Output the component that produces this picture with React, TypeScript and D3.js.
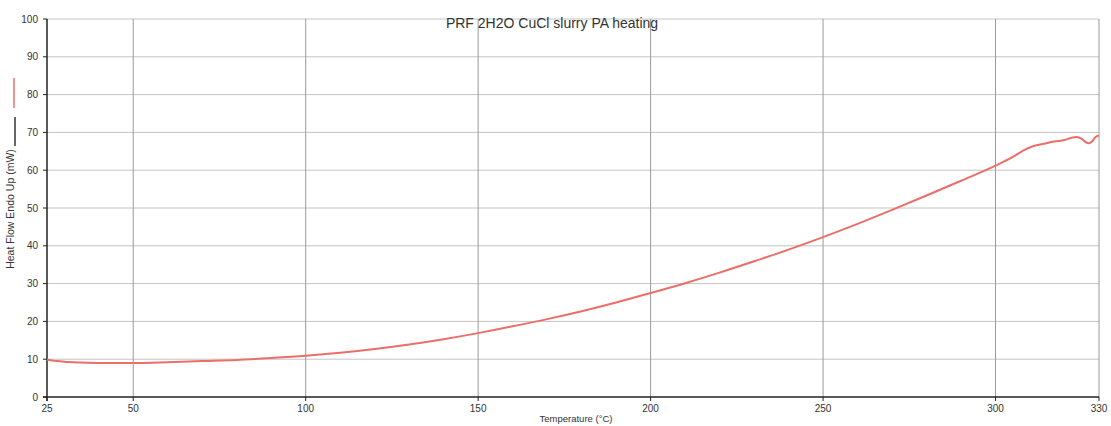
import React from "react";
import * as d3 from "d3";

// Temperature (°C) and heat flow (mW) samples of the heating run
const temperature = [25, 26, 28, 30, 35, 40, 50, 60, 70, 80, 90, 100, 110, 120, 130, 140, 150, 160, 170, 180, 190, 200, 210, 220, 230, 240, 250, 260, 270, 280, 290, 300, 305, 308, 311, 314, 317, 320, 322, 323.5, 325, 326, 327, 328, 329, 330];
const heatFlow = [9.9, 9.7, 9.5, 9.3, 9.1, 9.0, 9.0, 9.2, 9.5, 9.8, 10.3, 10.9, 11.7, 12.7, 13.9, 15.3, 16.9, 18.7, 20.6, 22.7, 25.0, 27.5, 30.1, 32.9, 35.9, 39.0, 42.3, 45.8, 49.5, 53.3, 57.2, 61.2, 63.5, 65.2, 66.4, 67.0, 67.6, 68.0, 68.6, 68.8, 68.3, 67.5, 67.1, 67.6, 68.8, 69.2];

const xTicks = [25, 50, 100, 150, 200, 250, 300, 330];
const yTicks = [0, 10, 20, 30, 40, 50, 60, 70, 80, 90, 100];

const title = "PRF 2H2O CuCl slurry PA heating";
const xLabel = "Temperature (°C)";
const yLabel = "Heat Flow Endo Up (mW)";

const W = 1111;
const H = 426;
const m = { left: 47, right: 1099, top: 19, bottom: 397 };

export default function App() {
  const x = d3.scaleLinear().domain([25, 330]).range([m.left, m.right]);
  const y = d3.scaleLinear().domain([0, 100]).range([m.bottom, m.top]);
  const pts: [number, number][] = temperature.map((t, i) => [t, heatFlow[i]]);
  const line = d3
    .line<[number, number]>()
    .x((d) => x(d[0]))
    .y((d) => y(d[1]))
    .curve(d3.curveMonotoneX);
  const font = "'Liberation Sans', Arial, sans-serif";

  return (
    <svg
      width={W}
      height={H}
      style={{ position: "absolute", left: 0, top: 0, background: "#fff" }}
      fontFamily={font}
    >
      {/* horizontal grid */}
      {yTicks.filter((v) => v > 0).map((v) => (
        <line key={"h" + v} x1={m.left} x2={m.right} y1={y(v)} y2={y(v)} stroke="#c4c4c4" strokeWidth={1} />
      ))}
      {/* vertical grid */}
      {xTicks.filter((v) => v > 25).map((v) => (
        <line key={"v" + v} x1={x(v)} x2={x(v)} y1={m.top} y2={m.bottom} stroke="#9a9a9a" strokeWidth={1} />
      ))}
      {/* axes */}
      <line x1={m.left} x2={m.left} y1={m.top} y2={m.bottom + 4} stroke="#222" strokeWidth={1.5} />
      <line x1={m.left - 4} x2={m.right} y1={m.bottom} y2={m.bottom} stroke="#222" strokeWidth={1.5} />
      {yTicks.map((v) => (
        <g key={"yt" + v}>
          <line x1={m.left - 4} x2={m.left} y1={y(v)} y2={y(v)} stroke="#222" />
          <text x={m.left - 9} y={y(v) + 3.5} fontSize={10} textAnchor="end" fill="#333">{v}</text>
        </g>
      ))}
      {xTicks.map((v) => (
        <g key={"xt" + v}>
          <line x1={x(v)} x2={x(v)} y1={m.bottom} y2={m.bottom + 4} stroke="#222" />
          <text x={x(v)} y={m.bottom + 15} fontSize={10} textAnchor="middle" fill="#333">{v}</text>
        </g>
      ))}
      <text x={576} y={422} fontSize={9.5} textAnchor="middle" fill="#333">{xLabel}</text>
      <text
        transform={`translate(14,${209}) rotate(-90)`}
        fontSize={10.5}
        textAnchor="middle"
        fill="#333"
      >
        {yLabel}
      </text>
      {/* legend swatches */}
      <line x1={14} x2={14} y1={78} y2={108} stroke="#e8706a" strokeWidth={1.5} />
      <line x1={15} x2={15} y1={117} y2={146} stroke="#333" strokeWidth={1.5} />
      <text x={552} y={28} fontSize={14} textAnchor="middle" fill="#333">{title}</text>
      {/* heat flow curve */}
      <path d={line(pts) ?? ""} fill="none" stroke="#ea6f68" strokeWidth={2} />
    </svg>
  );
}
